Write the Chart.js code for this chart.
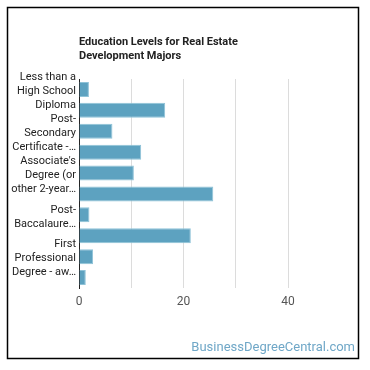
<!DOCTYPE html>
<html><head><meta charset="utf-8">
<script src="https://cdn.jsdelivr.net/npm/chart.js@4"></script>
<style>html,body{margin:0;padding:0;background:#fff}#wrap{position:relative;width:370px;height:370px}</style>
</head><body><div id="wrap"><canvas id="c" width="370" height="370"></canvas></div>
<script>
const categories = [
  "Less than a High School Diploma",
  "High School Diploma or equivalent",
  "Post-Secondary Certificate - awarded for training completed after high school",
  "Some College Courses",
  "Associate's Degree (or other 2-year degree)",
  "Bachelor's Degree",
  "Post-Baccalaureate Certificate",
  "Master's Degree",
  "First Professional Degree - awarded for completion of a program",
  "Doctoral Degree"
];
const values = [1.9, 16.5, 6.4, 11.9, 10.5, 25.7, 2.0, 21.4, 2.7, 1.3];
const titleLines = ["Education Levels for Real Estate", "Development Majors"];
const watermark = "BusinessDegreeCentral.com";
const xTickValues = [0, 20, 40];

const FONT = "Roboto";
const mctx = document.createElement('canvas').getContext('2d');
mctx.font = "11px " + FONT;
const MAXW = 66;
function fitEllipsis(s){
  while (s.length && mctx.measureText(s + "\u2026").width > MAXW) s = s.slice(0, -1);
  return s.trimEnd() + "\u2026";
}
function wrapLabel(text){
  const parts = [];
  const re = /([^ \-]+-?|-)( ?)/g; let m;
  while ((m = re.exec(text)) !== null) { if (!m[0]) break; parts.push({w:m[1], sp:m[2]}); }
  const lines = []; let cur = "";
  for (let i = 0; i < parts.length; i++) {
    const p = parts[i];
    const tryS = cur + p.w;
    if (mctx.measureText(tryS).width <= MAXW) { cur = tryS + p.sp; continue; }
    if (cur.trim() === "") { lines.push(fitEllipsis(p.w)); return lines; }
    lines.push(cur.trimEnd()); cur = "";
    if (lines.length === 2) {
      const rest = parts.slice(i).map(q => q.w + q.sp).join("").trimEnd();
      lines.push(mctx.measureText(rest).width <= MAXW ? rest : fitEllipsis(rest));
      return lines;
    }
    i--;
  }
  if (cur.trim()) lines.push(cur.trimEnd());
  return lines;
}

const framePlugin = {
  id: 'frame',
  beforeDraw(chart){
    const c = chart.ctx;
    c.save(); c.fillStyle = '#fff'; c.fillRect(0,0,chart.width,chart.height); c.restore();
  },
  afterDraw(chart){
    const c = chart.ctx, a = chart.chartArea;
    c.save();
    c.strokeStyle = '#000'; c.lineWidth = 1.5;
    c.strokeRect(7.5, 7.5, 351, 351);
    c.fillStyle = '#222'; c.font = "bold 11px " + FONT; c.textBaseline = 'middle'; c.textAlign = 'left';
    titleLines.forEach((t,i)=> c.fillText(t, a.left, 42 + i*14));
    c.fillStyle = '#6fa7c7'; c.font = "13px " + FONT; c.textAlign = 'right';
    c.fillText(watermark, 355, 348);
    c.restore();
  }
};

new Chart(document.getElementById('c'), {
  type: 'bar',
  data: { labels: categories, datasets: [{ data: values, backgroundColor: '#5da2c0', borderColor: '#8fc3d8', borderWidth: 1 }] },
  options: {
    indexAxis: 'y', responsive: false, animation: false,
    layout: { padding: { left: 10, right: 82, top: 79, bottom: 60 } },
    plugins: { legend: { display: false }, tooltip: { enabled: false }, title: { display: false } },
    scales: {
      y: {
        grid: { display: false, drawTicks: false },
        border: { display: true, color: '#222', width: 1 },
        afterFit(s){ s.width = 69; },
        ticks: {
          autoSkip: false, padding: 3, labelOffset: 2, color: '#222', font: { family: FONT, size: 11, lineHeight: 1.27 },
          callback(v, i){ return i % 2 === 0 ? wrapLabel(categories[i]) : ''; }
        }
      },
      x: {
        min: 0, max: 40,
        afterFit(s){ s.height = 22; },
        grid: { color: '#dcdcdc', drawTicks: false },
        border: { display: false },
        ticks: {
          stepSize: 10, padding: 7, color: '#555', font: { family: FONT, size: 12 },
          callback(v){ return xTickValues.includes(v) ? String(v) : ''; }
        }
      }
    }
  },
  plugins: [framePlugin]
});
</script></body></html>
